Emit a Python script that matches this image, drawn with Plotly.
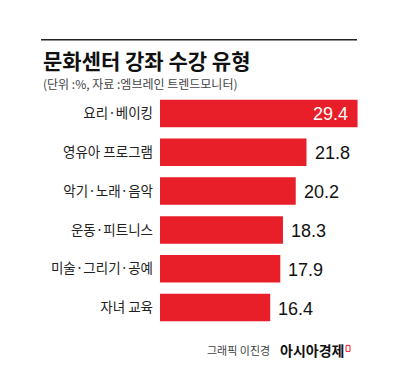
import plotly.graph_objects as go

categories = ["요리·베이킹", "영유아 프로그램", "악기·노래·음악", "운동·피트니스", "미술·그리기·공예", "자녀 교육"]
values = [29.4, 21.8, 20.2, 18.3, 17.9, 16.4]
value_labels = ["29.4", "21.8", "20.2", "18.3", "17.9", "16.4"]

title_text = "문화센터 강좌 수강 유형"
subtitle_text = "(단위 :%, 자료 :엠브레인 트렌드모니터)"
credit_text = "그래픽 이진경"
brand_text = "아시아경제"

RED = "#e81f28"
KR = "Noto Sans CJK KR"
NUM = "Liberation Sans, Arial, sans-serif"

# page body has an 8px margin; design coordinates are in window pixels
OFF = 8
W, H = 400 - OFF, 391 - OFF
L, R, T, B = 160 - OFF, 20 - OFF, 93.5 - OFF, 63.5
pw = W - L - R
ph = H - T - B

def fx(p):
    return (p - OFF - L) / pw

def fy(p):
    return (H - B - (p - OFF)) / ph

fig = go.Figure()
fig.add_trace(go.Bar(
    x=values, y=categories, orientation="h",
    marker=dict(color=RED, line=dict(width=0)),
    hoverinfo="skip",
))

annotations = []
for i, (c, v, t) in enumerate(zip(categories, values, value_labels)):
    inside = (i == 0)
    annotations.append(dict(
        x=v, y=c, xref="x", yref="y", text=t, showarrow=False,
        xanchor="right" if inside else "left",
        xshift=-8 if inside else 6, yshift=-1,
        font=dict(family=NUM, size=18, color="white" if inside else "#111"),
    ))

annotations += [
    dict(x=fx(41), y=fy(59), xref="paper", yref="paper", text="<b>" + title_text + "</b>",
         showarrow=False, xanchor="left", yanchor="middle",
         font=dict(family=KR, size=21, color="#111")),
    dict(x=fx(41), y=fy(83), xref="paper", yref="paper", text=subtitle_text,
         showarrow=False, xanchor="left", yanchor="middle",
         font=dict(family=KR, size=12, color="#444")),
    dict(x=fx(272), y=fy(351), xref="paper", yref="paper", text=credit_text,
         showarrow=False, xanchor="right", yanchor="middle",
         font=dict(family=KR, size=11, color="#444")),
    dict(x=fx(278), y=fy(351), xref="paper", yref="paper", text="<b>" + brand_text + "</b>",
         showarrow=False, xanchor="left", yanchor="middle",
         font=dict(family=KR, size=14, color="#111")),
]

shapes = [
    dict(type="line", xref="paper", yref="paper", x0=fx(41), x1=fx(357), y0=fy(39), y1=fy(39),
         line=dict(color="#222", width=1.5)),
    dict(type="rect", xref="paper", yref="paper", x0=fx(346), x1=fx(350), y0=fy(346), y1=fy(352),
         line=dict(color=RED, width=1), fillcolor="rgba(0,0,0,0)"),
]

fig.update_layout(
    width=W, height=H,
    margin=dict(l=L, r=R, t=T, b=B, pad=0),
    paper_bgcolor="white", plot_bgcolor="white",
    bargap=0.29,
    showlegend=False,
    annotations=annotations,
    shapes=shapes,
    xaxis=dict(range=[0, pw / 6.72], visible=False, fixedrange=True),
    yaxis=dict(autorange="reversed", showgrid=False, zeroline=False, showline=False,
               ticks="", ticklabelstandoff=6, automargin=False,
               tickfont=dict(family=KR, size=13.5, color="#222"), fixedrange=True),
)

fig.write_html("out.html", config={"displayModeBar": False})
